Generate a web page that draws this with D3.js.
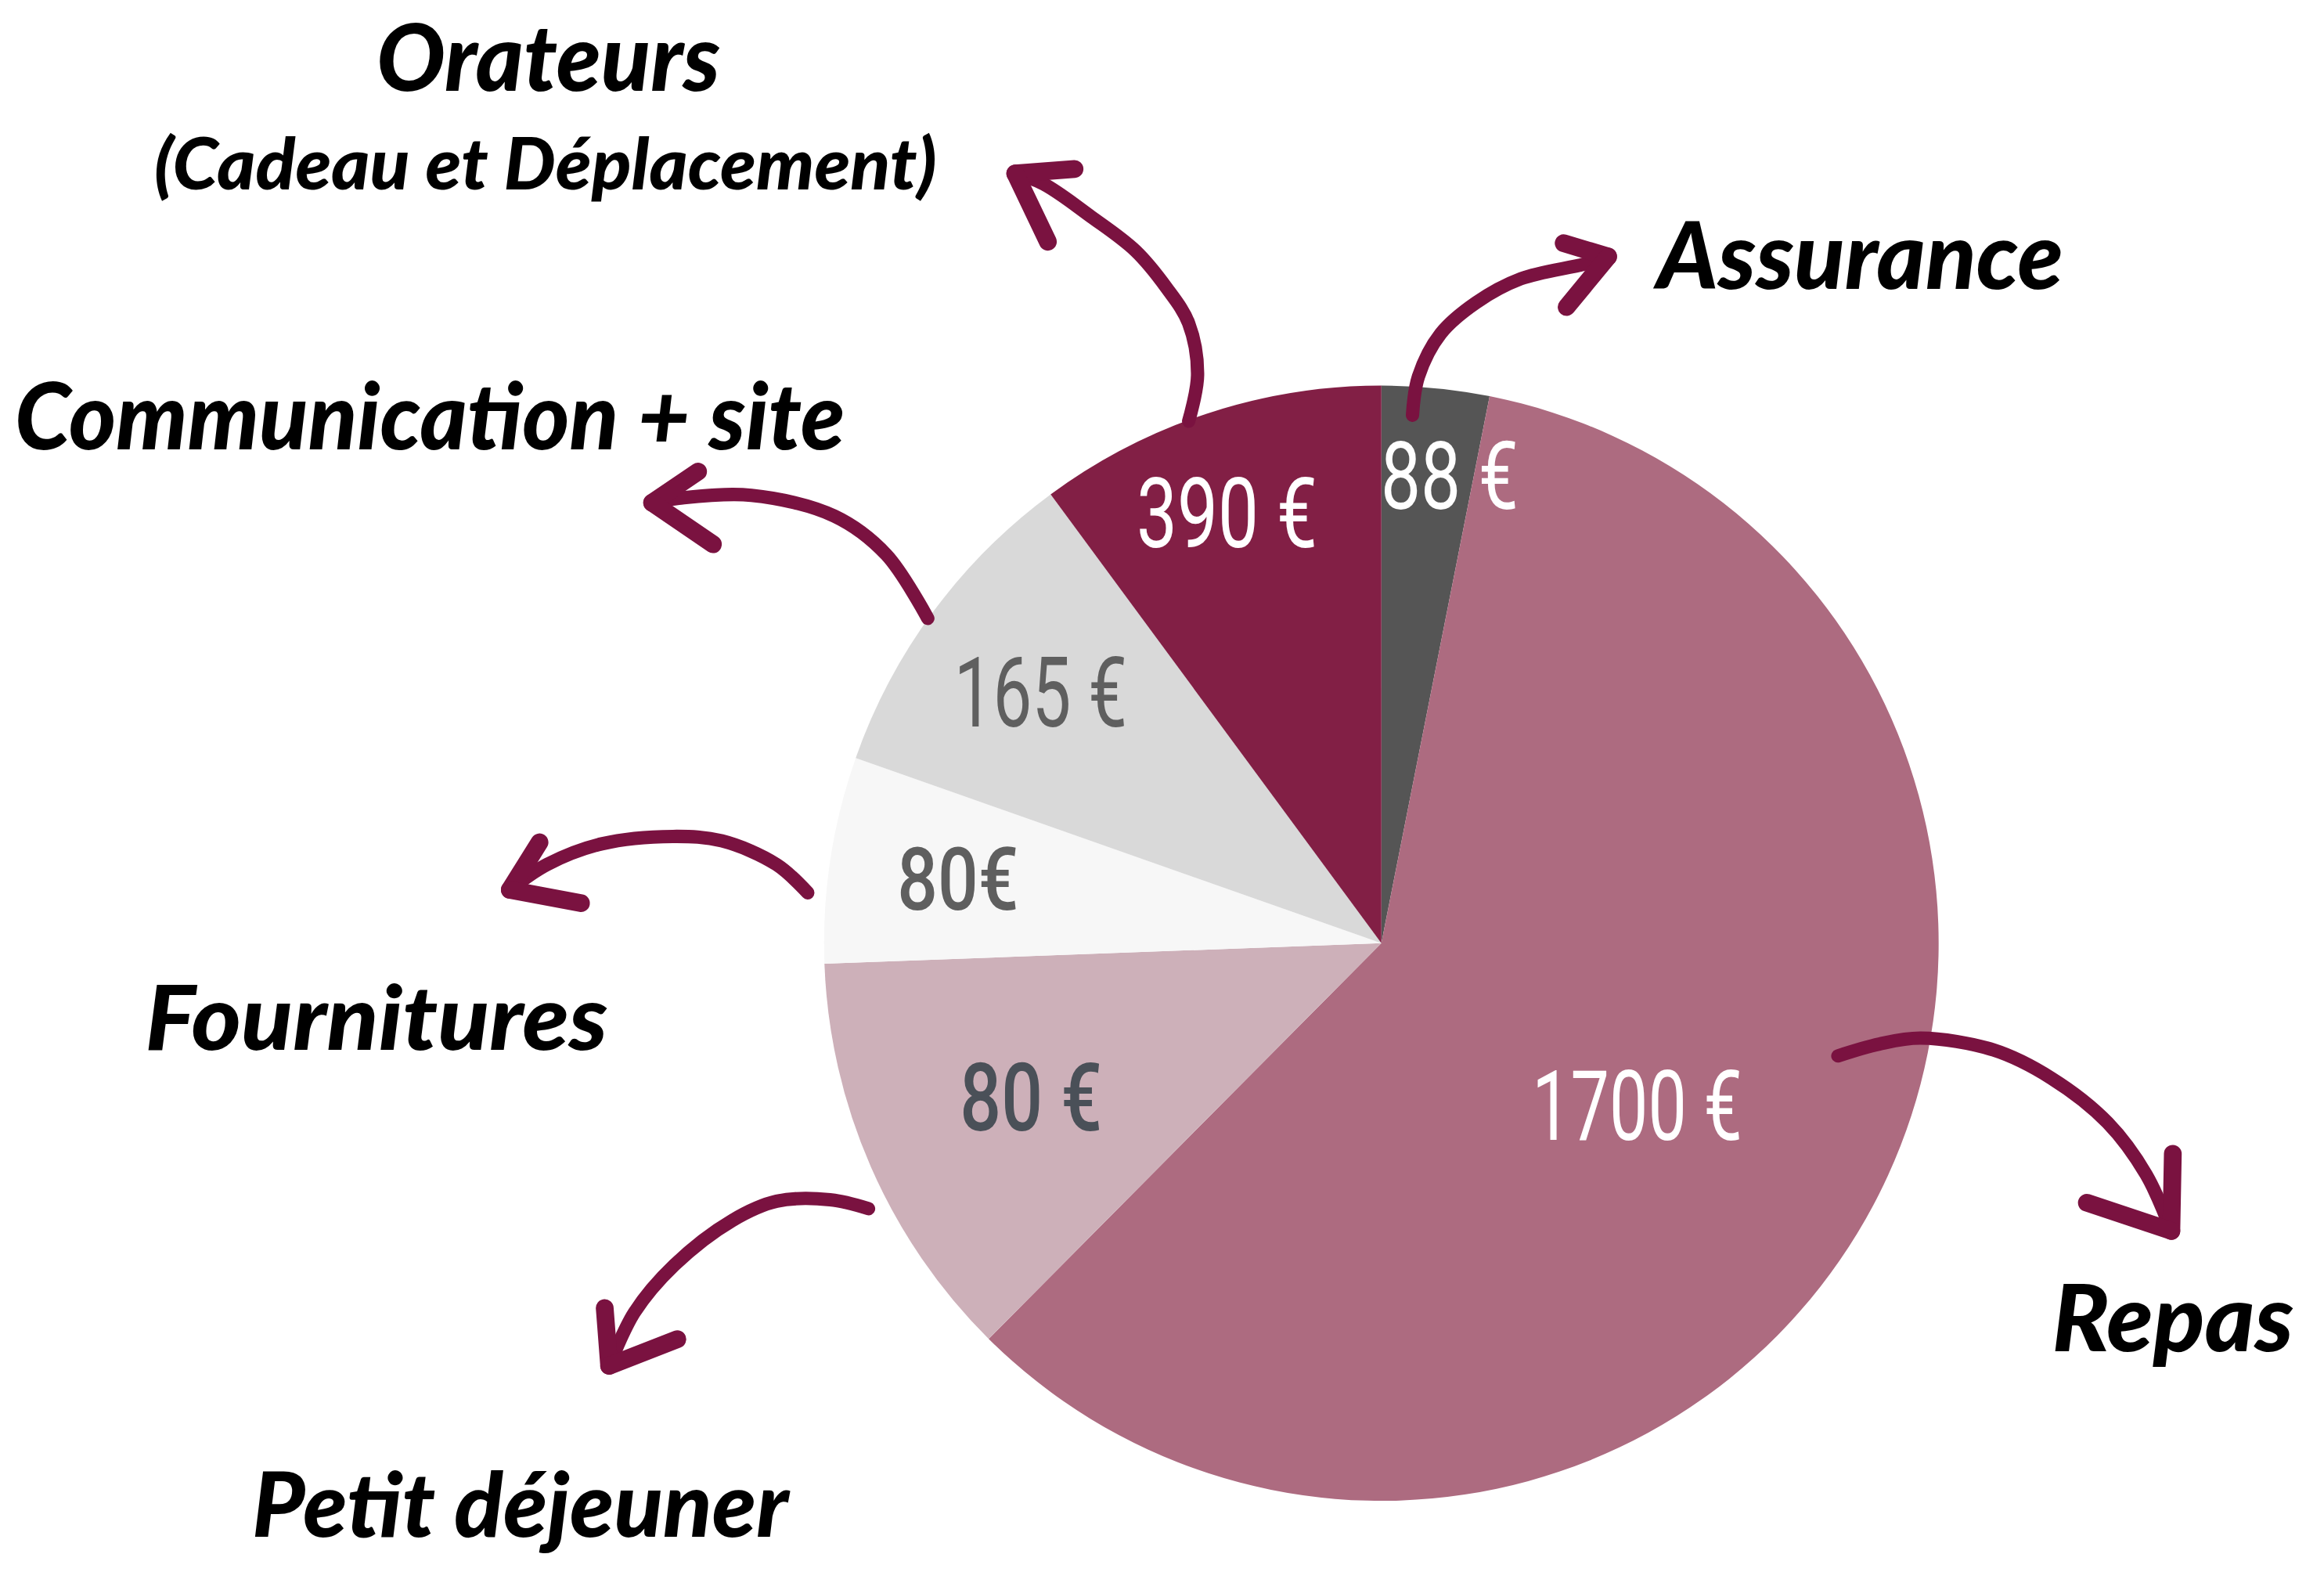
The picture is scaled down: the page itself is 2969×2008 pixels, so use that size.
<!DOCTYPE html>
<html>
<head>
<meta charset="utf-8">
<script src="https://cdn.jsdelivr.net/npm/d3@7"></script>
<style>
  html, body { margin: 0; padding: 0; background: #ffffff; }
  svg { display: block; }
</style>
</head>
<body>
<svg></svg>
<script>
// data, clockwise from 12 o'clock
var categories = ["Assurance", "Repas", "Petit déjeuner", "Fournitures", "Communication + site", "Orateurs"]
var shares = [11.2, 213.6, 43.1, 21.5, 34.2, 36.4]          // angle of each slice (degrees) as drawn
var amountLabels = ["88 €", "1700 €", "80 €", "80€", "165 €", "390 €"]
var subtitle = "(Cadeau et Déplacement)"

// styles
var sliceColors = ["#555555", "#ad6b80", "#cdb0b9", "#f7f7f7", "#d9d9d9", "#821f45"]
var amountColors = ["#ffffff", "#ffffff", "#4a5058", "#5f5f5f", "#5f5f5f", "#ffffff"]
var arrowColor = "#7a1240"

// layout, in 1568 x 1060 units, stretched to the window
var screen = {width: 2969, height: 2008}
var view = {width: 1568, height: 1060}
var pieBox = {cx: 932, cy: 636, r: 376}

var narrow = "'Liberation Sans Narrow', Roboto, sans-serif"
var amountPos = [
    {r: 319, shift: 2.7, size: 64, font: narrow, weight: 400, len: 93},
    {r: 204, shift: 4.2, size: 66, font: narrow, weight: 400, len: 142},
    {r: 258, shift: 0, size: 64, font: "Roboto, sans-serif", weight: 500, len: 96},
    {r: 289, shift: 0.1, size: 59, font: "Roboto, sans-serif", weight: 500, len: 82},
    {r: 286, shift: 0, size: 66, font: narrow, weight: 400, len: 117},
    {r: 309, shift: -1.5, size: 66, font: narrow, weight: 400, len: 122}
]

var titlePos = [
    {text: categories[5], x: 370, y: 61, size: 62, len: 232},
    {text: subtitle, x: 368, y: 128, size: 48, len: 528},
    {text: categories[0], x: 1255, y: 195, size: 62, len: 274},
    {text: categories[4], x: 290, y: 303, size: 62, len: 560},
    {text: categories[3], x: 254, y: 708, size: 60, len: 312},
    {text: categories[1], x: 1466, y: 911, size: 62, len: 163},
    {text: categories[2], x: 351, y: 1036, size: 60, len: 362}
]

// hand drawn arrows: shaft points then the two barbs
var arrows = [
    {shaft: [[953, 280], [957, 254], [972, 225], [996, 204], [1026, 188], [1069, 178], [1085, 173]],
     barbs: [[1055, 164], [1057, 207]]},
    {shaft: [[1240, 712], [1268, 704], [1296, 700], [1345, 708], [1384, 727], [1422, 757], [1448, 792], [1465, 830]],
     barbs: [[1466, 778], [1408, 811]]},
    {shaft: [[586, 815], [560, 809], [524, 810], [494, 823], [455, 853], [428, 885], [411, 921]],
     barbs: [[408, 882], [457, 903]]},
    {shaft: [[545, 602], [524, 583], [487, 567], [454, 564], [406, 569], [369, 583], [344, 600]],
     barbs: [[364, 568], [392, 609]]},
    {shaft: [[626, 417], [598, 374], [563, 348], [507, 334], [458, 336], [440, 339]],
     barbs: [[471, 318], [481, 367]]},
    {shaft: [[802, 284], [808, 253], [802, 218], [787, 194], [766, 169], [736, 146], [704, 124], [685, 117]],
     barbs: [[725, 114], [707, 163]]}
]

var svg = d3.select("svg")
    .attr("width", screen.width)
    .attr("height", screen.height)
    .attr("viewBox", "0 0 " + view.width + " " + view.height)
    .attr("preserveAspectRatio", "none")

var rad = function(deg) { return deg * Math.PI / 180 }

var pie = d3.pie()
    .sort(null)
    .value(function(d) { return d })

var arc = d3.arc()
    .innerRadius(0)
    .outerRadius(pieBox.r)

var slices = pie(shares)

var g = svg.append("g")
    .attr("id", "pie")
    .attr("transform", "translate(" + pieBox.cx + "," + pieBox.cy + ")")

g.selectAll("path")
    .data(slices)
    .enter()
    .append("path")
    .attr("d", arc)
    .attr("fill", function(d, i) { return sliceColors[i] })

// amounts inside the slices
g.selectAll("text")
    .data(slices)
    .enter()
    .append("text")
    .attr("x", function(d, i)
        {
            var a = (d.startAngle + d.endAngle) / 2 + rad(amountPos[i].shift)
            return amountPos[i].r * Math.sin(a)
        })
    .attr("y", function(d, i)
        {
            var a = (d.startAngle + d.endAngle) / 2 + rad(amountPos[i].shift)
            return -amountPos[i].r * Math.cos(a)
        })
    .attr("dy", "0.36em")
    .attr("text-anchor", "middle")
    .attr("font-family", function(d, i) { return amountPos[i].font })
    .attr("font-weight", function(d, i) { return amountPos[i].weight })
    .attr("font-size", function(d, i) { return amountPos[i].size })
    .attr("textLength", function(d, i) { return amountPos[i].len })
    .attr("lengthAdjust", "spacingAndGlyphs")
    .attr("fill", function(d, i) { return amountColors[i] })
    .text(function(d, i) { return amountLabels[i] })

// arrows
var line = d3.line().curve(d3.curveCatmullRom.alpha(0.5))

var ag = svg.append("g").attr("id", "arrows")

arrows.forEach(function(a)
    {
        var tip = a.shaft[a.shaft.length - 1]
        ag.append("path")
            .attr("d", line(a.shaft))
            .attr("fill", "none")
            .attr("stroke", arrowColor)
            .attr("stroke-width", 9)
            .attr("stroke-linecap", "round")
        a.barbs.forEach(function(b)
            {
                ag.append("path")
                    .attr("d", d3.line()([tip, b]))
                    .attr("stroke", arrowColor)
                    .attr("stroke-width", 12)
                    .attr("stroke-linecap", "round")
            })
    })

// category names
svg.append("g")
    .attr("id", "titles")
    .selectAll("text")
    .data(titlePos)
    .enter()
    .append("text")
    .attr("x", function(d) { return d.x })
    .attr("y", function(d) { return d.y })
    .attr("text-anchor", "middle")
    .attr("font-family", "Lato, 'DejaVu Sans', sans-serif")
    .attr("font-style", "italic")
    .attr("font-weight", 900)
    .attr("font-size", function(d) { return d.size })
    .attr("textLength", function(d) { return d.len })
    .attr("lengthAdjust", "spacingAndGlyphs")
    .attr("fill", "#000000")
    .text(function(d) { return d.text })
</script>
</body>
</html>
